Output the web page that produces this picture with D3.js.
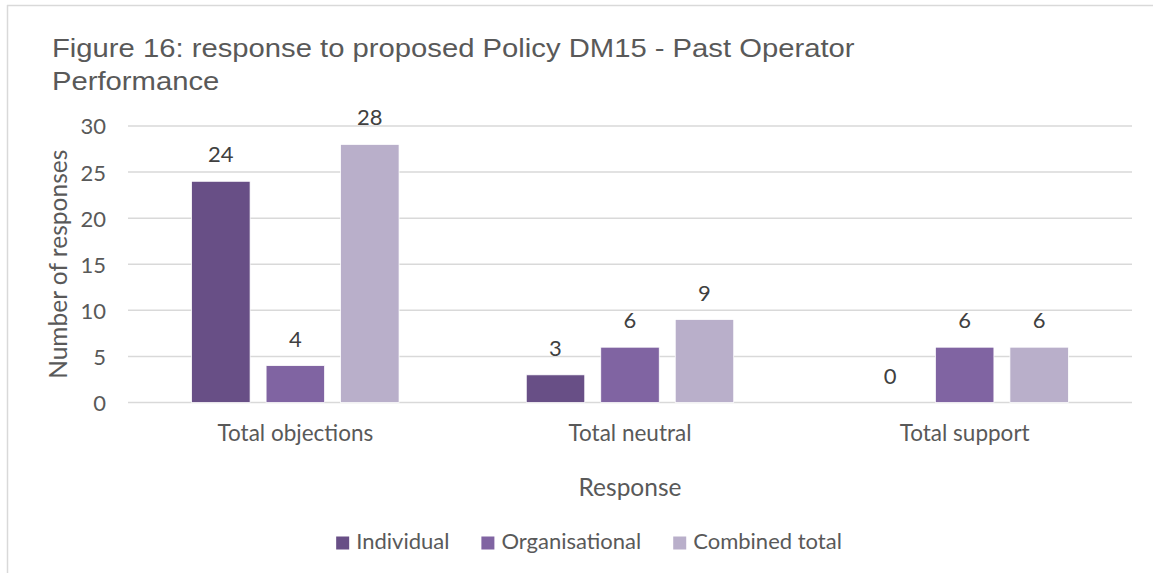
<!DOCTYPE html>
<html>
<head>
<meta charset="utf-8">
<script src="https://cdn.jsdelivr.net/npm/d3@7"></script>
<style>
  html, body { margin: 0; padding: 0; background: #fff; }
  svg { display: block; }
</style>
</head>
<body>
<svg id="chart" width="1153" height="573"></svg>
<script>
// Response categories and counts per respondent type
const categories = ["Total objections", "Total neutral", "Total support"];
const seriesNames = ["Individual", "Organisational", "Combined total"];
const individual = [24, 3, 0];
const organisational = [4, 6, 6];
const combinedTotal = [28, 9, 6];
const yTicks = [0, 5, 10, 15, 20, 25, 30];

const seriesValues = [individual, organisational, combinedTotal];
const colors = ["#684f86", "#8064a2", "#b9afca"];

const titleLines = ["Figure 16: response to proposed Policy DM15 - Past Operator", "Performance"];
const yTitle = "Number of responses";
const xTitle = "Response";

const textColor = "#595959";
const labelFont = "Lato, 'Open Sans', sans-serif";

const svg = d3.select("#chart");
const W = 1153, H = 573;
const plot = { left: 128, right: 1132, top: 126, bottom: 402.5 };

// frame of the chart area (top and left edges)
svg.append("line").attr("x1", 7).attr("x2", W).attr("y1", 5.5).attr("y2", 5.5)
  .attr("stroke", "#d9d9d9").attr("stroke-width", 1.5);
svg.append("line").attr("x1", 7.5).attr("x2", 7.5).attr("y1", 5).attr("y2", H)
  .attr("stroke", "#d9d9d9").attr("stroke-width", 1.5);

// title: wide grotesque face, stretched horizontally so the first line spans the plot
const titleG = svg.append("g");
const title = titleG.append("text")
  .attr("font-family", "'Liberation Sans', Arial, sans-serif")
  .attr("font-size", 25.5)
  .attr("fill", textColor);
titleLines.forEach((t, i) => {
  title.append("tspan").attr("x", 0).attr("y", 57 + i * 33).text(t);
});
const firstLineWidth = title.select("tspan").node().getComputedTextLength();
const titleScale = 803 / firstLineWidth;
titleG.attr("transform", `translate(52,0) scale(${titleScale},1)`);

// scales
const x0 = d3.scaleBand().domain(categories).range([plot.left, plot.right]).padding(0);
const x1 = d3.scaleBand().domain(seriesNames).range([0, x0.bandwidth()])
  .paddingInner(0.215).paddingOuter(0.854);
const y = d3.scaleLinear().domain([0, 30]).range([plot.bottom, plot.top]);

// gridlines
svg.append("g")
  .selectAll("line")
  .data(yTicks)
  .join("line")
  .attr("x1", plot.left).attr("x2", plot.right)
  .attr("y1", d => y(d)).attr("y2", d => y(d))
  .attr("stroke", "#d9d9d9").attr("stroke-width", 1.5);

// y axis tick labels
const yAxis = d3.axisLeft(y).tickValues(yTicks).tickSize(0).tickPadding(0);
const yg = svg.append("g").attr("transform", `translate(106,0)`).call(yAxis);
yg.select(".domain").remove();
yg.selectAll("text")
  .attr("font-family", labelFont).attr("font-size", 22)
  .attr("fill", textColor).attr("dy", "0.36em");

// x axis category labels
const xAxis = d3.axisBottom(x0).tickSize(0).tickPadding(0);
const xg = svg.append("g").attr("transform", `translate(0,441)`).call(xAxis);
xg.select(".domain").remove();
xg.selectAll("text")
  .attr("font-family", labelFont).attr("font-size", 22.5)
  .attr("fill", textColor).attr("dy", 0).attr("y", 0);

// bars
const rows = categories.map((c, ci) => ({
  category: c,
  values: seriesNames.map((s, si) => ({ series: s, value: seriesValues[si][ci], color: colors[si] }))
}));

const groups = svg.append("g").selectAll("g")
  .data(rows)
  .join("g")
  .attr("transform", d => `translate(${x0(d.category)},0)`);

groups.selectAll("rect")
  .data(d => d.values)
  .join("rect")
  .attr("x", d => x1(d.series))
  .attr("width", x1.bandwidth())
  .attr("y", d => y(d.value))
  .attr("height", d => y(0) - y(d.value))
  .attr("fill", d => d.color)
  .attr("stroke", "#ffffff").attr("stroke-width", 0.75);

// value labels
groups.selectAll("text.value")
  .data(d => d.values)
  .join("text")
  .attr("class", "value")
  .attr("x", d => x1(d.series) + x1.bandwidth() / 2)
  .attr("y", d => y(d.value) - 19)
  .attr("text-anchor", "middle")
  .attr("font-family", labelFont).attr("font-size", 22)
  .attr("fill", "#404040")
  .text(d => d.value);

// axis titles
svg.append("text")
  .attr("transform", `translate(67,${(plot.top + plot.bottom) / 2}) rotate(-90)`)
  .attr("text-anchor", "middle")
  .attr("font-family", labelFont).attr("font-size", 24.5)
  .attr("fill", textColor)
  .text(yTitle);

svg.append("text")
  .attr("x", (plot.left + plot.right) / 2)
  .attr("y", 496)
  .attr("text-anchor", "middle")
  .attr("font-family", labelFont).attr("font-size", 24.5)
  .attr("fill", textColor)
  .text(xTitle);

// legend
const legend = svg.append("g");
const sw = 13, textGap = 7, itemGap = 32;
const items = legend.selectAll("g")
  .data(seriesNames)
  .join("g");
items.append("rect")
  .attr("width", sw).attr("height", sw)
  .attr("y", 536.5)
  .attr("fill", (d, i) => colors[i]);
items.append("text")
  .attr("x", sw + textGap)
  .attr("y", 549)
  .attr("font-family", labelFont).attr("font-size", 22)
  .attr("fill", textColor)
  .text(d => d);
let offsets = [], cursor = 0;
items.each(function () {
  offsets.push(cursor);
  const tw = d3.select(this).select("text").node().getComputedTextLength();
  cursor += sw + textGap + tw + itemGap;
});
const legendWidth = cursor - itemGap;
const legendStart = 589 - legendWidth / 2;
items.attr("transform", (d, i) => `translate(${legendStart + offsets[i]},0)`);
</script>
</body>
</html>
